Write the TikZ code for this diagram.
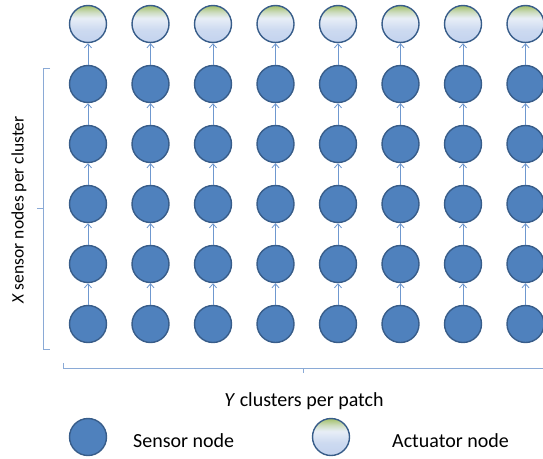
\documentclass[tikz,border=0pt]{standalone}
\usepackage{fontspec}
\setmainfont{Carlito}
\usetikzlibrary{arrows.meta}
\definecolor{sfill}{HTML}{4F81BD}
\definecolor{sdraw}{HTML}{385D8A}
\definecolor{arrc}{HTML}{6F98CF}
\definecolor{brc}{HTML}{8AAAD6}
\definecolor{agreen}{HTML}{9BBB59}
\definecolor{awhite}{HTML}{E8EEF7}
\definecolor{ablue}{HTML}{C3D3EE}
\pgfdeclareverticalshading{actshade}{100bp}{color(0bp)=(ablue); color(25bp)=(ablue); color(42bp)=(ablue!75!awhite); color(58bp)=(awhite); color(66bp)=(agreen!35!awhite); color(75bp)=(agreen!90!awhite); color(100bp)=(agreen!90!awhite)}
\begin{document}
\begin{tikzpicture}[x=1pt,y=-1pt,
  sensor/.style={circle,fill=sfill,draw=sdraw,line width=1.4pt,minimum size=37pt,inner sep=0pt},
  actuator/.style={circle,shading=actshade,draw=sdraw,line width=1.4pt,minimum size=37pt,inner sep=0pt},
  arr/.style={draw=arrc,line width=0.8pt,-{Straight Barb[length=4pt,width=7pt]}},
  bracket/.style={draw=brc,line width=0.8pt},
  lbl/.style={font=\fontsize{20}{24}\selectfont,inner sep=0pt}]
\useasboundingbox (0,0) rectangle (543,458);
\foreach \c [evaluate=\c as \xx using {88+62.5*(\c-1)}] in {1,...,8} {
  \node[actuator] (a-\c) at (\xx,24) {};
  \foreach \r in {1,...,5} {
    \node[sensor] (s-\c-\r) at (\xx,{24+60*\r}) {};
  }
  \draw[arr] (s-\c-1) -- (a-\c);
  \foreach \r [evaluate=\r as \rn using int(\r+1)] in {1,...,4} {
    \draw[arr] (s-\c-\rn) -- (s-\c-\r);
  }
}
% left bracket
\coordinate (lt) at (50,68);
\coordinate (lb) at (50,349);
\coordinate (lm) at (37,208);
\draw[bracket] (lt) -- (43,68) -- (43,349) -- (lb);
\draw[bracket] (43,208) -- (lm);
% bottom bracket
\coordinate (bl) at (63,363);
\coordinate (br) at (546,368);
\coordinate (bm) at (303,373);
\draw[bracket] (bl) -- (63,368) -- (br);
\draw[bracket] (303,368) -- (bm);
\node[lbl,font=\fontsize{17.5}{20}\selectfont,rotate=90] (xl) at (19,210) {\textit{X} sensor nodes per cluster};
\node[lbl,anchor=base] (yl) at (304,406) {\textit{Y} clusters per patch};
% legend
\node[sensor] (ls) at (88,437) {};
\node[lbl,anchor=base west] (lst) at (133,447) {Sensor node};
\node[actuator] (la) at (331,437) {};
\node[lbl,anchor=base west] (lat) at (392,447) {Actuator node};
\end{tikzpicture}
\end{document}
